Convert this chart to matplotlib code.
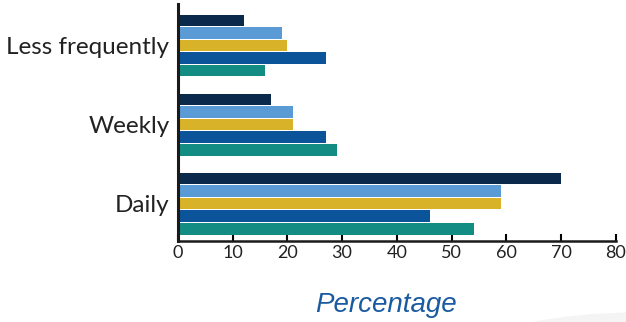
import matplotlib
matplotlib.use("Agg")
import matplotlib.pyplot as plt
from matplotlib.patches import Ellipse
import numpy as np

categories = ["Daily", "Weekly", "Less frequently"]
series_a = [70, 17, 12]
series_b = [59, 21, 19]
series_c = [59, 21, 20]
series_d = [46, 27, 27]
series_e = [54, 29, 16]
colors = ["#0b2a4b", "#5a9bd6", "#d8b32a", "#0c5499", "#138d84"]
x_ticks = [0, 10, 20, 30, 40, 50, 60, 70, 80]

fig = plt.figure(figsize=(6.26, 3.22), dpi=100)

# faint backdrop curve in lower right
fig.patches.append(Ellipse((1.02, -0.42), 0.95, 0.9, transform=fig.transFigure,
                           facecolor="#f4f4f4", edgecolor="none", zorder=0))

ax = fig.add_axes([0.284, 0.252, 0.70, 0.735])
ax.set_facecolor("none")

centers = np.array([0, 6.3, 12.6])
offsets = [2, 1, 0, -1, -2]
for vals, off, c in zip([series_a, series_b, series_c, series_d, series_e], offsets, colors):
    ax.barh(centers + off, vals, height=0.92, color=c, zorder=2)

ax.set_xlim(0, 80)
ax.set_ylim(-2.96, 15.9)
ax.set_xticks(x_ticks)
ax.set_yticks(centers)
ax.set_yticklabels(categories, fontsize=17.5, color="#222222", family="Lato")
for t in ax.get_xticklabels():
    t.set_fontsize(13)
    t.set_color("#222222")
    t.set_family("Lato")
ax.tick_params(axis="x", direction="in", length=5, width=1.5, pad=3)
ax.tick_params(axis="y", length=0, pad=6)
for s in ("top", "right"):
    ax.spines[s].set_visible(False)
ax.spines["left"].set_linewidth(2.2)
ax.spines["bottom"].set_linewidth(1.8)
ax.spines["left"].set_color("#1a1a1a")
ax.spines["bottom"].set_color("#1a1a1a")

fig.text(0.617, 0.053, "Percentage", ha="center", va="center", fontsize=20,
         style="italic", color="#1a5aa0", family="Liberation Sans")

fig.savefig("out.png", dpi=100)
